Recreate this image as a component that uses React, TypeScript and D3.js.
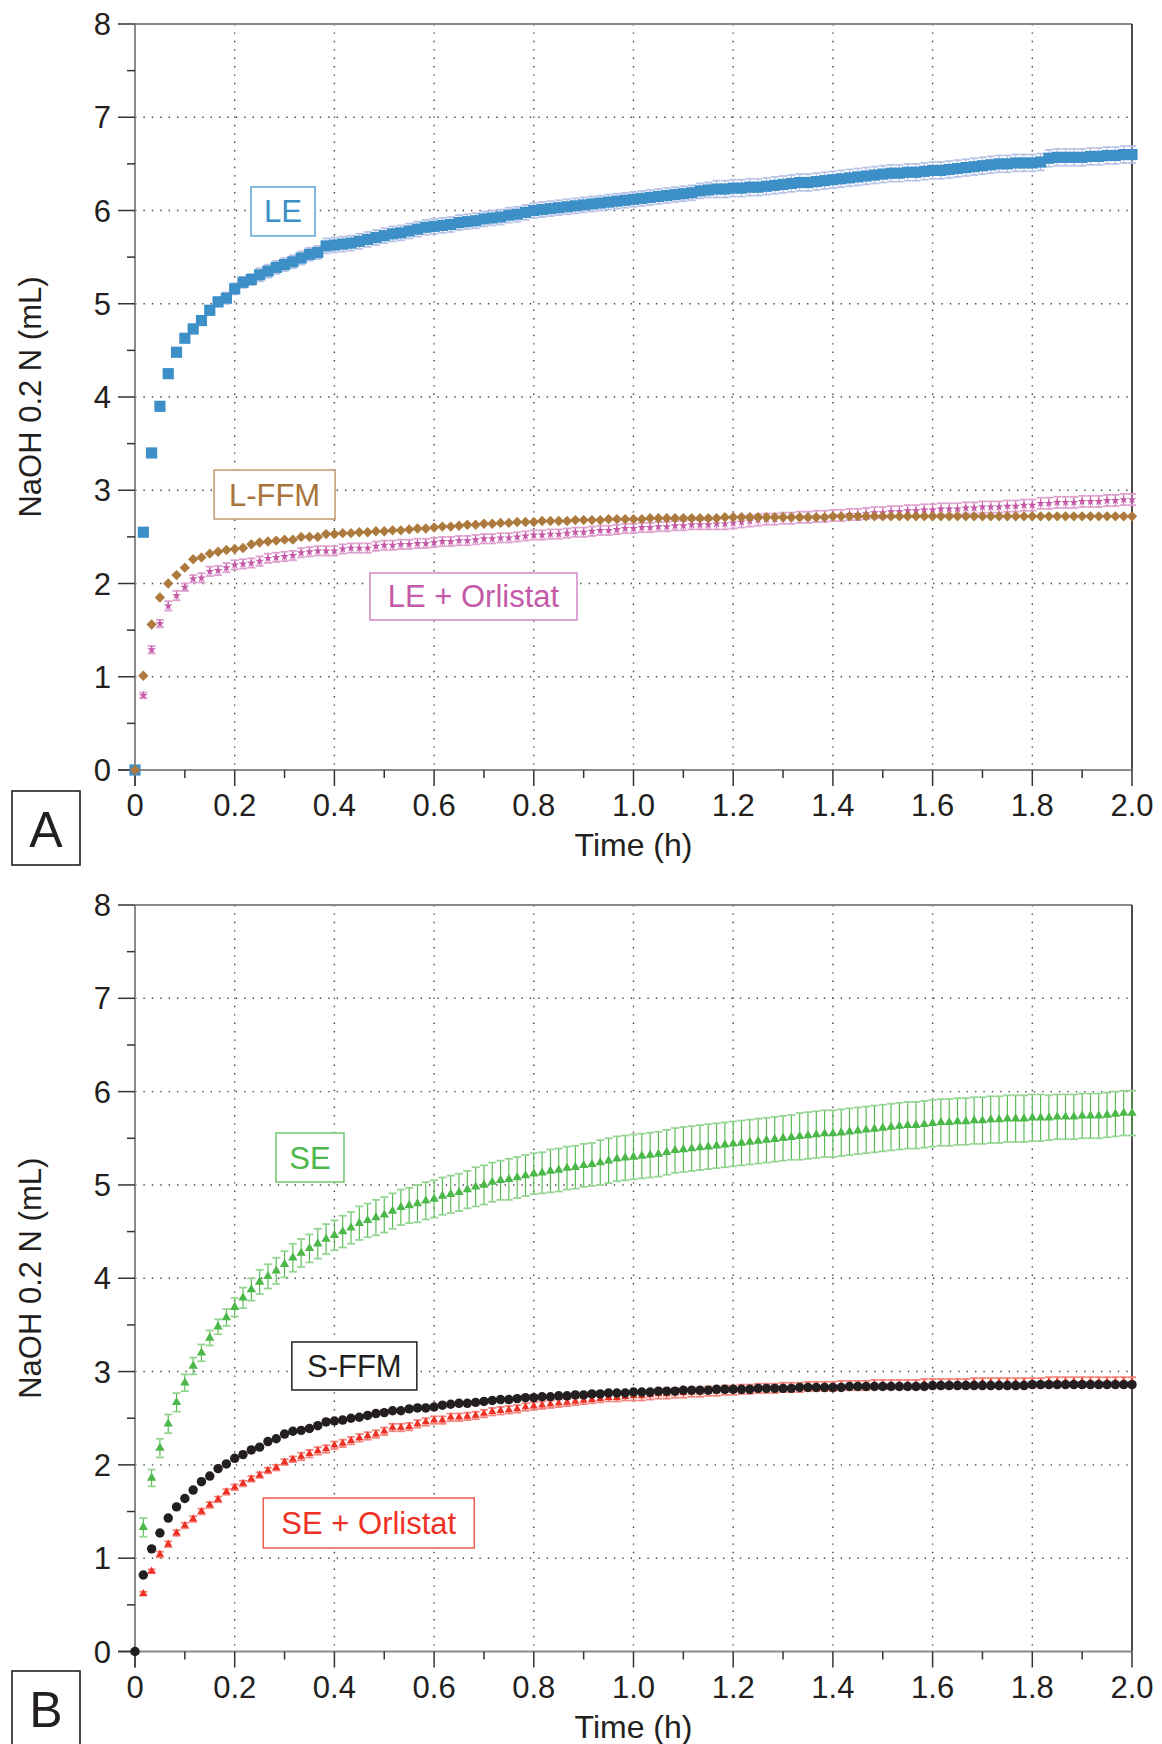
import React from "react";
import * as d3 from "d3";

// ---------- data ----------
const minutes = d3.range(0, 121); // one reading per minute, 0..120 min
const xTickValues = [0, 0.2, 0.4, 0.6, 0.8, 1.0, 1.2, 1.4, 1.6, 1.8, 2.0];
const xTickLabels = ["0", "0.2", "0.4", "0.6", "0.8", "1.0", "1.2", "1.4", "1.6", "1.8", "2.0"];
const xMinorTicks = [0.1, 0.3, 0.5, 0.7, 0.9, 1.1, 1.3, 1.5, 1.7, 1.9];
const yTickValues = [0, 1, 2, 3, 4, 5, 6, 7, 8];
const yMinorTicks = [0.5, 1.5, 2.5, 3.5, 4.5, 5.5, 6.5, 7.5];

const leValues = [
  0, 2.55, 3.40, 3.90, 4.25, 4.48, 4.63, 4.73, 4.82, 4.93,
  5.02, 5.06, 5.16, 5.23, 5.26, 5.31, 5.35, 5.39, 5.42, 5.45,
  5.49, 5.53, 5.55, 5.62, 5.63, 5.64, 5.65, 5.67, 5.69, 5.71,
  5.73, 5.75, 5.76, 5.78, 5.80, 5.82, 5.83, 5.84, 5.85, 5.87,
  5.88, 5.89, 5.91, 5.92, 5.93, 5.95, 5.96, 5.98, 6.00, 6.01,
  6.02, 6.03, 6.04, 6.05, 6.06, 6.07, 6.08, 6.09, 6.10, 6.11,
  6.12, 6.13, 6.14, 6.15, 6.16, 6.17, 6.18, 6.19, 6.21, 6.22,
  6.23, 6.23, 6.24, 6.24, 6.25, 6.25, 6.26, 6.27, 6.28, 6.29,
  6.30, 6.30, 6.31, 6.32, 6.33, 6.34, 6.35, 6.36, 6.37, 6.38,
  6.39, 6.40, 6.40, 6.41, 6.41, 6.42, 6.43, 6.43, 6.44, 6.45,
  6.46, 6.47, 6.48, 6.49, 6.50, 6.50, 6.51, 6.51, 6.51, 6.52,
  6.56, 6.57, 6.57, 6.57, 6.57, 6.58, 6.58, 6.59, 6.59, 6.60,
  6.60,
];
const leErr = [
  0, .02, .03, .03, .04, .04, .04, .05, .05, .05,
  .05, .06, .06, .06, .06, .07, .07, .07, .07, .07,
  .07, .07, .07, .08, .08, .08, .08, .08, .08, .08,
  .08, .08, .08, .08, .08, .08, .08, .08, .08, .08,
  .08, .08, .08, .08, .08, .08, .08, .08, .08, .08,
  .08, .08, .08, .08, .08, .08, .08, .08, .08, .08,
  .08, .08, .08, .08, .08, .08, .08, .08, .08, .08,
  .09, .09, .09, .09, .09, .09, .09, .09, .09, .09,
  .09, .09, .09, .09, .09, .09, .09, .09, .09, .09,
  .09, .09, .09, .09, .09, .09, .09, .09, .09, .09,
  .09, .09, .09, .09, .09, .09, .09, .09, .09, .09,
  .09, .09, .09, .09, .09, .09, .09, .09, .09, .09,
  .09,
];

const lffmValues = [
  0, 1.01, 1.56, 1.85, 2.00, 2.09, 2.17, 2.26, 2.28, 2.32,
  2.34, 2.36, 2.37, 2.38, 2.42, 2.44, 2.45, 2.46, 2.47, 2.47,
  2.50, 2.50, 2.50, 2.53, 2.53, 2.54, 2.54, 2.55, 2.55, 2.56,
  2.56, 2.57, 2.57, 2.58, 2.59, 2.59, 2.60, 2.61, 2.61, 2.62,
  2.63, 2.63, 2.64, 2.64, 2.65, 2.65, 2.66, 2.66, 2.66, 2.67,
  2.67, 2.67, 2.67, 2.68, 2.68, 2.68, 2.68, 2.69, 2.69, 2.69,
  2.69, 2.69, 2.70, 2.70, 2.70, 2.70, 2.70, 2.70, 2.70, 2.70,
  2.70, 2.71, 2.71, 2.71, 2.71, 2.71, 2.71, 2.71, 2.71, 2.71,
  2.71, 2.71, 2.71, 2.71, 2.72, 2.72, 2.72, 2.72, 2.72, 2.72,
  2.72, 2.72, 2.72, 2.72, 2.72, 2.72, 2.72, 2.72, 2.72, 2.72,
  2.72, 2.72, 2.72, 2.72, 2.72, 2.72, 2.72, 2.72, 2.72, 2.72,
  2.72, 2.72, 2.72, 2.72, 2.72, 2.72, 2.72, 2.72, 2.72, 2.72,
  2.72,
];

const leOrlValues = [
  0, 0.80, 1.29, 1.57, 1.76, 1.87, 1.96, 2.05, 2.06, 2.13,
  2.14, 2.17, 2.20, 2.21, 2.22, 2.24, 2.27, 2.28, 2.29, 2.30,
  2.33, 2.34, 2.35, 2.35, 2.35, 2.37, 2.38, 2.38, 2.38, 2.40,
  2.41, 2.41, 2.42, 2.42, 2.43, 2.43, 2.44, 2.45, 2.45, 2.46,
  2.46, 2.47, 2.48, 2.48, 2.49, 2.49, 2.50, 2.51, 2.52, 2.52,
  2.53, 2.53, 2.54, 2.55, 2.55, 2.56, 2.57, 2.57, 2.58, 2.59,
  2.59, 2.60, 2.60, 2.61, 2.61, 2.62, 2.62, 2.63, 2.63, 2.63,
  2.64, 2.64, 2.65, 2.66, 2.67, 2.68, 2.69, 2.69, 2.70, 2.70,
  2.71, 2.71, 2.72, 2.72, 2.73, 2.73, 2.74, 2.74, 2.75, 2.76,
  2.76, 2.77, 2.77, 2.78, 2.78, 2.79, 2.79, 2.80, 2.80, 2.80,
  2.81, 2.81, 2.82, 2.82, 2.82, 2.83, 2.83, 2.84, 2.84, 2.86,
  2.86, 2.87, 2.87, 2.87, 2.88, 2.88, 2.88, 2.89, 2.89, 2.90,
  2.90,
];
const leOrlErr = [
  0, .03, .04, .04, .05, .05, .04, .04, .05, .05,
  .05, .05, .05, .05, .05, .05, .05, .05, .05, .05,
  .05, .05, .05, .05, .05, .05, .05, .05, .05, .05,
  .05, .05, .05, .05, .05, .05, .05, .05, .05, .05,
  .05, .05, .05, .05, .05, .05, .05, .05, .05, .05,
  .05, .05, .05, .05, .05, .05, .05, .05, .05, .05,
  .05, .05, .05, .05, .05, .05, .05, .05, .05, .05,
  .06, .06, .06, .06, .06, .06, .06, .06, .06, .06,
  .06, .06, .06, .06, .06, .06, .06, .06, .06, .06,
  .06, .06, .06, .06, .06, .06, .06, .06, .06, .06,
  .06, .06, .06, .06, .06, .06, .06, .06, .06, .06,
  .06, .06, .06, .06, .06, .06, .06, .06, .06, .06,
  .06,
];

const seValues = [
  0, 1.33, 1.86, 2.18, 2.44, 2.67, 2.88, 3.06, 3.20, 3.36,
  3.48, 3.58, 3.69, 3.79, 3.88, 3.96, 4.02, 4.08, 4.15, 4.22,
  4.27, 4.32, 4.37, 4.42, 4.46, 4.50, 4.54, 4.59, 4.62, 4.65,
  4.68, 4.72, 4.76, 4.78, 4.80, 4.83, 4.85, 4.88, 4.90, 4.92,
  4.95, 4.98, 5.00, 5.03, 5.05, 5.06, 5.08, 5.10, 5.12, 5.13,
  5.15, 5.16, 5.18, 5.19, 5.21, 5.22, 5.24, 5.26, 5.28, 5.29,
  5.30, 5.31, 5.32, 5.33, 5.35, 5.37, 5.38, 5.39, 5.40, 5.41,
  5.42, 5.43, 5.44, 5.45, 5.46, 5.47, 5.48, 5.49, 5.50, 5.51,
  5.52, 5.53, 5.54, 5.55, 5.55, 5.56, 5.57, 5.58, 5.59, 5.60,
  5.61, 5.62, 5.63, 5.64, 5.64, 5.65, 5.66, 5.67, 5.67, 5.68,
  5.68, 5.69, 5.69, 5.70, 5.70, 5.71, 5.71, 5.71, 5.72, 5.72,
  5.72, 5.73, 5.73, 5.73, 5.74, 5.74, 5.74, 5.75, 5.76, 5.77,
  5.77,
];
const seErr = [
  0, .10, .09, .10, .10, .10, .09, .09, .09, .08,
  .08, .09, .10, .11, .12, .13, .13, .14, .14, .15,
  .15, .15, .16, .16, .16, .17, .17, .18, .18, .19,
  .19, .19, .19, .19, .20, .20, .20, .20, .20, .20,
  .20, .21, .21, .21, .21, .22, .22, .22, .22, .22,
  .23, .23, .23, .23, .23, .23, .24, .24, .24, .24,
  .24, .24, .24, .24, .24, .24, .24, .24, .24, .24,
  .24, .24, .24, .24, .24, .24, .24, .24, .24, .24,
  .25, .25, .25, .25, .25, .25, .25, .25, .25, .25,
  .25, .25, .25, .25, .25, .25, .25, .25, .25, .25,
  .25, .25, .25, .25, .25, .25, .25, .25, .25, .25,
  .24, .24, .24, .24, .24, .24, .24, .24, .24, .24,
  .24,
];

const sffmValues = [
  0, 0.82, 1.10, 1.27, 1.43, 1.55, 1.64, 1.73, 1.82, 1.88,
  1.96, 2.01, 2.07, 2.11, 2.16, 2.19, 2.25, 2.28, 2.33, 2.36,
  2.37, 2.39, 2.42, 2.46, 2.47, 2.48, 2.50, 2.51, 2.53, 2.55,
  2.56, 2.58, 2.58, 2.60, 2.61, 2.61, 2.62, 2.64, 2.65, 2.66,
  2.66, 2.67, 2.68, 2.69, 2.70, 2.70, 2.71, 2.72, 2.72, 2.73,
  2.73, 2.74, 2.74, 2.75, 2.75, 2.76, 2.76, 2.77, 2.77, 2.77,
  2.78, 2.78, 2.78, 2.79, 2.79, 2.79, 2.80, 2.80, 2.80, 2.80,
  2.81, 2.81, 2.81, 2.81, 2.81, 2.82, 2.82, 2.82, 2.82, 2.82,
  2.83, 2.83, 2.83, 2.83, 2.83, 2.83, 2.84, 2.84, 2.84, 2.84,
  2.84, 2.84, 2.84, 2.84, 2.84, 2.84, 2.85, 2.85, 2.85, 2.85,
  2.85, 2.85, 2.85, 2.85, 2.85, 2.85, 2.85, 2.85, 2.86, 2.86,
  2.86, 2.86, 2.86, 2.86, 2.86, 2.86, 2.86, 2.86, 2.86, 2.86,
  2.86,
];

const seOrlValues = [
  0, 0.62, 0.86, 1.04, 1.15, 1.27, 1.35, 1.42, 1.50, 1.57,
  1.63, 1.71, 1.76, 1.80, 1.85, 1.89, 1.94, 1.97, 2.03, 2.06,
  2.09, 2.12, 2.15, 2.17, 2.21, 2.23, 2.26, 2.29, 2.31, 2.33,
  2.36, 2.40, 2.40, 2.41, 2.44, 2.46, 2.48, 2.48, 2.51, 2.51,
  2.52, 2.53, 2.55, 2.57, 2.58, 2.59, 2.60, 2.62, 2.63, 2.64,
  2.65, 2.66, 2.67, 2.68, 2.69, 2.70, 2.71, 2.72, 2.72, 2.73,
  2.74, 2.74, 2.75, 2.76, 2.76, 2.77, 2.77, 2.78, 2.78, 2.79,
  2.79, 2.80, 2.80, 2.81, 2.81, 2.82, 2.82, 2.82, 2.83, 2.83,
  2.83, 2.84, 2.84, 2.84, 2.84, 2.85, 2.85, 2.85, 2.85, 2.86,
  2.86, 2.86, 2.86, 2.86, 2.86, 2.87, 2.87, 2.87, 2.87, 2.87,
  2.87, 2.88, 2.88, 2.88, 2.88, 2.88, 2.88, 2.88, 2.88, 2.88,
  2.89, 2.89, 2.89, 2.89, 2.89, 2.89, 2.89, 2.89, 2.89, 2.89,
  2.89,
];
const seOrlErr = [
  0, .02, .02, .03, .03, .03, .03, .03, .03, .03,
  .03, .03, .03, .03, .03, .03, .03, .03, .03, .03,
  .04, .04, .04, .04, .04, .04, .04, .04, .04, .04,
  .04, .04, .04, .04, .04, .04, .04, .04, .04, .04,
  .04, .04, .04, .04, .04, .04, .04, .04, .04, .04,
  .04, .04, .04, .04, .04, .04, .04, .04, .04, .04,
  .05, .05, .05, .05, .05, .05, .05, .05, .05, .05,
  .05, .05, .05, .05, .05, .05, .05, .05, .05, .05,
  .05, .05, .05, .05, .05, .05, .05, .05, .05, .05,
  .05, .05, .05, .05, .05, .05, .05, .05, .05, .05,
  .05, .05, .05, .05, .05, .05, .05, .05, .05, .05,
  .05, .05, .05, .05, .05, .05, .05, .05, .05, .05,
  .05,
];

// ---------- styling / layout ----------
const FONT = "'Liberation Sans', Arial, Helvetica, sans-serif";
const X0 = 135;
const X1 = 1132;

const diamondSymbol = {
  draw(ctx: any, size: number) {
    const r = Math.sqrt(size / 2);
    ctx.moveTo(0, -r);
    ctx.lineTo(r, 0);
    ctx.lineTo(0, r);
    ctx.lineTo(-r, 0);
    ctx.closePath();
  },
};

type Series = {
  values: number[];
  err?: number[];
  symbol: any;
  size: number;
  color: string;
  errColor?: string;
  capColor?: string;
};

type Label = { text: string; t: number; v: number; w: number; h: number; color: string; stroke: string };

const panelA = {
  top: 24,
  bottom: 770,
  letter: "A",
  letterBox: 791,
  series: [
    { values: leValues, err: leErr, symbol: d3.symbolSquare, size: 125, color: "#3d8fc8", errColor: "#a9b5df", capColor: "#b9c3e6" },
    { values: leOrlValues, err: leOrlErr, symbol: d3.symbolStar, size: 24, color: "#c55aa9", errColor: "#cf72b6", capColor: "#dea0cf" },
    { values: lffmValues, symbol: diamondSymbol, size: 54, color: "#ad7a3d" },
  ] as Series[],
  labels: [
    { text: "LE", t: 0.297, v: 5.99, w: 64, h: 49, color: "#3d8fc8", stroke: "#5aa2d2" },
    { text: "L-FFM", t: 0.28, v: 2.954, w: 121, h: 49, color: "#a8753b", stroke: "#c29a6c" },
    { text: "LE + Orlistat", t: 0.679, v: 1.861, w: 207, h: 47, color: "#c55aa9", stroke: "#d386c3" },
  ] as Label[],
};

const panelB = {
  top: 905,
  bottom: 1651.5,
  letter: "B",
  letterBox: 1671,
  series: [
    { values: seValues, err: seErr, symbol: d3.symbolTriangle, size: 38, color: "#4db84a", errColor: "#4db84a", capColor: "#95d592" },
    { values: seOrlValues, err: seOrlErr, symbol: d3.symbolTriangle, size: 28, color: "#ee3124", errColor: "#ee3124", capColor: "#f3837b" },
    { values: sffmValues, symbol: d3.symbolCircle, size: 70, color: "#231f20" },
  ] as Series[],
  labels: [
    { text: "SE", t: 0.351, v: 5.294, w: 68, h: 49, color: "#4db84a", stroke: "#6fc66c" },
    { text: "S-FFM", t: 0.44, v: 3.06, w: 125, h: 48, color: "#231f20", stroke: "#231f20" },
    { text: "SE + Orlistat", t: 0.469, v: 1.377, w: 211, h: 50, color: "#ee3124", stroke: "#ef5a4f" },
  ] as Label[],
};

function Panel({ p }: { p: typeof panelA }) {
  const x = d3.scaleLinear().domain([0, 2]).range([X0, X1]);
  const y = d3.scaleLinear().domain([0, 8]).range([p.bottom, p.top]);
  const hours = minutes.map((m) => m / 60);
  const midY = (p.top + p.bottom) / 2;

  return (
    <g>
      {/* grid */}
      {xTickValues.slice(1, -1).map((t) => (
        <line key={"gx" + t} x1={x(t)} x2={x(t)} y1={p.top} y2={p.bottom}
          stroke="#444" strokeWidth={1.4} strokeDasharray="1.4 7" />
      ))}
      {yTickValues.slice(1, -1).map((v) => (
        <line key={"gy" + v} x1={X0} x2={X1} y1={y(v)} y2={y(v)}
          stroke="#444" strokeWidth={1.4} strokeDasharray="1.4 7" />
      ))}

      {/* frame */}
      <line x1={X0} x2={X1} y1={p.top} y2={p.top} stroke="#8a8a8a" strokeWidth={2} />
      <line x1={X1} x2={X1} y1={p.top} y2={p.bottom} stroke="#231f20" strokeWidth={1.6} />
      <line x1={X0 - 17} x2={X1} y1={p.bottom} y2={p.bottom} stroke="#8a8a8a" strokeWidth={2} />
      <line x1={X0} x2={X0} y1={p.top} y2={p.bottom + 16} stroke="#8a8a8a" strokeWidth={2} />

      {/* y ticks */}
      {yTickValues.map((v) => (
        <line key={"yt" + v} x1={X0 - 17} x2={X0} y1={y(v)} y2={y(v)} stroke="#333" strokeWidth={1.5} />
      ))}
      {yMinorTicks.map((v) => (
        <line key={"ym" + v} x1={X0 - 8} x2={X0} y1={y(v)} y2={y(v)} stroke="#333" strokeWidth={1.5} />
      ))}
      {yTickValues.map((v) => (
        <text key={"yl" + v} x={X0 - 24} y={y(v) + 11} textAnchor="end" fontSize={31} fill="#231f20" fontFamily={FONT}>
          {v}
        </text>
      ))}

      {/* x ticks */}
      {xTickValues.map((t) => (
        <line key={"xt" + t} x1={x(t)} x2={x(t)} y1={p.bottom} y2={p.bottom + 16} stroke="#333" strokeWidth={1.5} />
      ))}
      {xMinorTicks.map((t) => (
        <line key={"xm" + t} x1={x(t)} x2={x(t)} y1={p.bottom} y2={p.bottom + 8} stroke="#333" strokeWidth={1.5} />
      ))}
      {xTickValues.map((t, i) => (
        <text key={"xl" + t} x={x(t)} y={p.bottom + 46} textAnchor="middle" fontSize={31} fill="#231f20" fontFamily={FONT}>
          {xTickLabels[i]}
        </text>
      ))}

      {/* axis titles */}
      <text x={x(1)} y={p.bottom + 86} textAnchor="middle" fontSize={32} fill="#231f20" fontFamily={FONT}>
        Time (h)
      </text>
      <text transform={`translate(41,${midY}) rotate(-90)`} textAnchor="middle" fontSize={31} fill="#231f20" fontFamily={FONT}>
        NaOH 0.2 N (mL)
      </text>

      {/* panel letter */}
      <rect x={12} y={p.letterBox} width={68} height={74} fill="none" stroke="#231f20" strokeWidth={1.6} />
      <text x={46} y={p.letterBox + 56} textAnchor="middle" fontSize={50} fill="#231f20" fontFamily={FONT}>
        {p.letter}
      </text>

      {/* series */}
      {p.series.map((s, si) => {
        const sym = d3.symbol().type(s.symbol).size(s.size)();
        return (
          <g key={"s" + si}>
            {s.err &&
              s.values.map((v, i) => {
                const e = s.err![i];
                if (!e) return null;
                const cx = x(hours[i]);
                const yt = y(v + e);
                const yb = y(v - e);
                return (
                  <g key={"e" + i}>
                    <line x1={cx} x2={cx} y1={yt} y2={yb} stroke={s.errColor} strokeWidth={1.1} />
                    <line x1={cx - 4} x2={cx + 4} y1={yt} y2={yt} stroke={s.capColor} strokeWidth={1.8} />
                    <line x1={cx - 4} x2={cx + 4} y1={yb} y2={yb} stroke={s.capColor} strokeWidth={1.8} />
                  </g>
                );
              })}
            {s.values.map((v, i) => (
              <path key={"m" + i} d={sym || ""} transform={`translate(${x(hours[i])},${y(v)})`} fill={s.color} />
            ))}
          </g>
        );
      })}

      {/* labels */}
      {p.labels.map((l) => {
        const cx = x(l.t);
        const cy = y(l.v);
        return (
          <g key={l.text}>
            <rect x={cx - l.w / 2} y={cy - l.h / 2} width={l.w} height={l.h} fill="#fff" stroke={l.stroke} strokeWidth={1.5} />
            <text x={cx} y={cy + 11} textAnchor="middle" fontSize={31} fill={l.color} fontFamily={FONT}>
              {l.text}
            </text>
          </g>
        );
      })}
    </g>
  );
}

export default function App() {
  return (
    <svg width={1162} height={1744} viewBox="0 0 1162 1744"
      style={{ position: "absolute", left: 0, top: 0, background: "#fff" }}>
      <rect x={0} y={0} width={1162} height={1744} fill="#fff" />
      <Panel p={panelA} />
      <Panel p={panelB} />
    </svg>
  );
}
